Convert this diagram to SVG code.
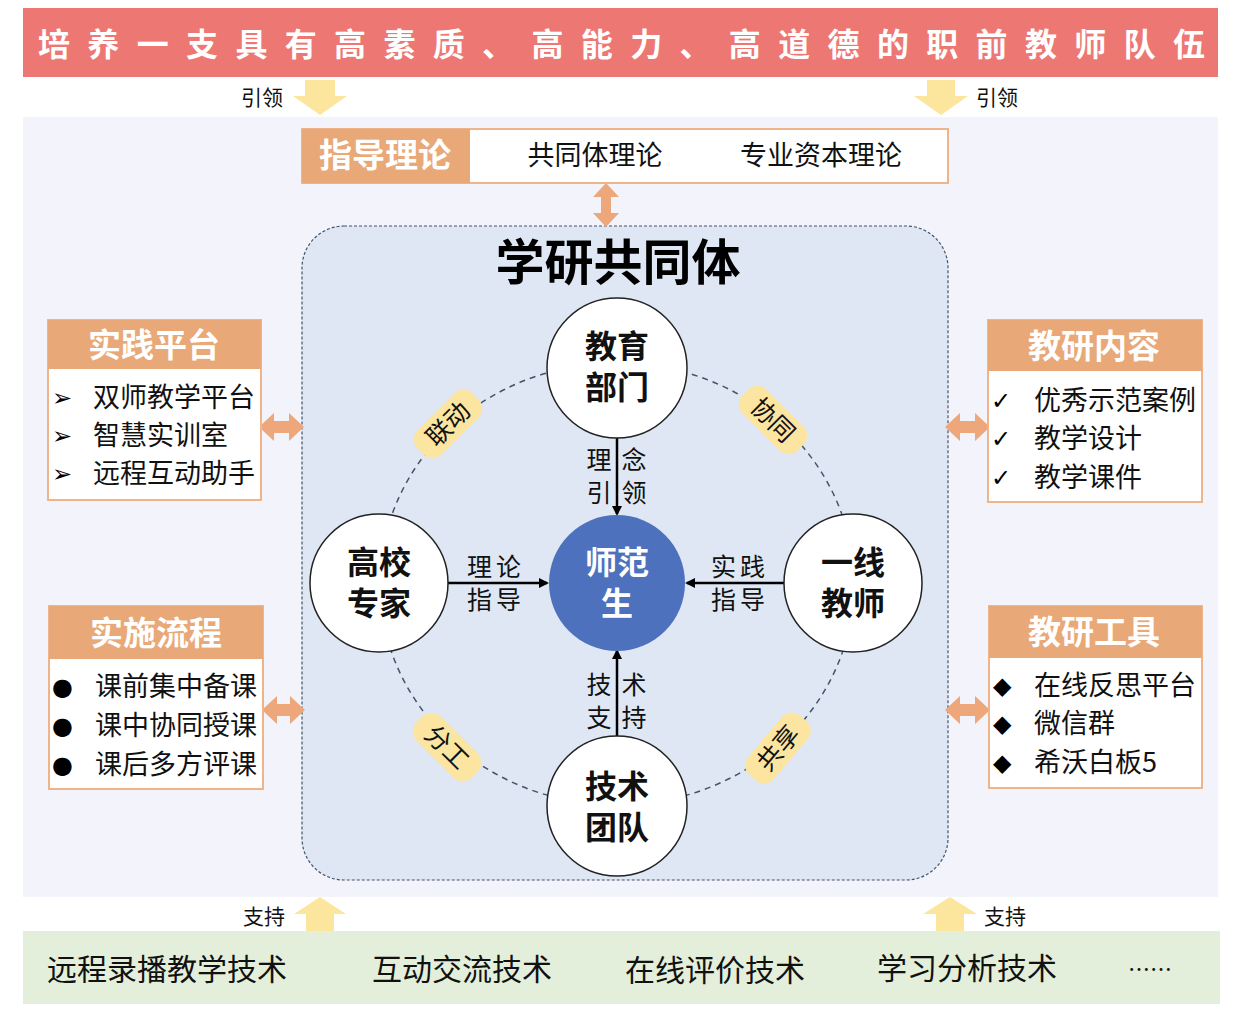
<svg xmlns="http://www.w3.org/2000/svg" width="1240" height="1020" viewBox="0 0 1240 1020">
<defs>
<style>
.cjk{font-family:"Noto Sans CJK SC","Liberation Sans",sans-serif;}
.b{font-weight:bold;}
.hdr{fill:#E9A878;}
.box{fill:#FFFFFF;stroke:#F0B48A;stroke-width:2;}
.dbl{fill:#EDA77A;}
.yel{fill:#FCE59C;}
.badge{fill:#FCE5A0;}
.ring{fill:#FFFFFF;stroke:#222;stroke-width:1.5;}
.ctext{font-size:32px;font-weight:bold;fill:#111;text-anchor:middle;}
.item{font-size:27px;fill:#111;}
.blt{font-family:"DejaVu Sans",sans-serif;font-size:24px;fill:#000;}
.lbl{font-size:25px;fill:#111;text-anchor:middle;}
.htxt{font-size:33px;font-weight:bold;fill:#FFFFFF;text-anchor:middle;}
.dash{fill:none;stroke:#44546A;stroke-width:1.5;stroke-dasharray:6 5;}
.conn{stroke:#000;stroke-width:2.5;fill:none;}
.band{font-size:30px;fill:#111;}
</style>
<marker id="ah" markerWidth="10" markerHeight="10" refX="8" refY="5" orient="auto" markerUnits="userSpaceOnUse" viewBox="0 0 10 10">
<path d="M0,0 L10,5 L0,10 z" fill="#000"/>
</marker>
</defs>

<rect x="0" y="0" width="1240" height="1020" fill="#FFFFFF"/>

<g id="banner">
<rect x="23" y="8" width="1195" height="69" fill="#ED7873"/>
<text class="cjk b" x="38" y="56" font-size="32" fill="#FFFFFF" textLength="1167" lengthAdjust="spacing">培养一支具有高素质、高能力、高道德的职前教师队伍</text>
</g>

<rect x="23" y="117" width="1195" height="780" fill="#F2F3FB"/>

<g id="arrows-top">
<polygon class="yel" points="305,80 335,80 335,96 347,96 320,115 293,96 305,96"/>
<text class="cjk" x="262" y="105" font-size="21" fill="#111" text-anchor="middle">引领</text>
<polygon class="yel" points="927,80 955,80 955,96 968,96 941,115 914,96 927,96"/>
<text class="cjk" x="997" y="105" font-size="21" fill="#111" text-anchor="middle">引领</text>
</g>

<g id="theory">
<rect class="box" x="302" y="129" width="646" height="54"/>
<rect class="hdr" x="302" y="129" width="168" height="54"/>
<text class="cjk htxt" x="385" y="167">指导理论</text>
<text class="cjk" x="595" y="165" font-size="27" fill="#111" text-anchor="middle">共同体理论</text>
<text class="cjk" x="821" y="165" font-size="27" fill="#111" text-anchor="middle">专业资本理论</text>
</g>

<g id="community">
<rect x="302" y="226" width="646" height="654" rx="42" ry="42" fill="#DEE7F3" stroke="#44546A" stroke-width="1.2" stroke-dasharray="3 2"/>
<text class="cjk b" x="618" y="280" font-size="49" fill="#000" text-anchor="middle">学研共同体</text>
</g>

<g id="connectors">
<polygon class="dbl" points="606,183 619,197 611,197 611,213 619,213 606,227 593,213 601,213 601,197 593,197"/>
<polygon class="dbl" points="259,427 274,413 274,421 289,421 289,413 304,427 289,441 289,433 274,433 274,441"/>
<polygon class="dbl" points="262,710 277,696 277,704 290,704 290,696 305,710 290,724 290,716 277,716 277,724"/>
<polygon class="dbl" points="945,427 960,413 960,421 975,421 975,413 990,427 975,441 975,433 960,433 960,441"/>
<polygon class="dbl" points="945,710 960,696 960,704 975,704 975,696 990,710 975,724 975,716 960,716 960,724"/>
<ellipse class="dash" cx="617" cy="584" rx="237" ry="221"/>
<line class="conn" x1="617" y1="438" x2="617" y2="514" marker-end="url(#ah)"/>
<line class="conn" x1="448" y1="583" x2="547" y2="583" marker-end="url(#ah)"/>
<line class="conn" x1="785" y1="583" x2="687" y2="583" marker-end="url(#ah)"/>
<line class="conn" x1="617" y1="738" x2="617" y2="651" marker-end="url(#ah)"/>
<text class="cjk lbl" x="599" y="469">理</text>
<text class="cjk lbl" x="634" y="469">念</text>
<text class="cjk lbl" x="599" y="502">引</text>
<text class="cjk lbl" x="634" y="502">领</text>
<text class="cjk lbl" x="496" y="576" letter-spacing="4">理论</text>
<text class="cjk lbl" x="496" y="609" letter-spacing="4">指导</text>
<text class="cjk lbl" x="740" y="576" letter-spacing="4">实践</text>
<text class="cjk lbl" x="740" y="609" letter-spacing="4">指导</text>
<text class="cjk lbl" x="599" y="694">技</text>
<text class="cjk lbl" x="634" y="694">术</text>
<text class="cjk lbl" x="599" y="727">支</text>
<text class="cjk lbl" x="634" y="727">持</text>
<g transform="translate(448,424) rotate(-45)">
<rect class="badge" x="-39" y="-17" width="78" height="34" rx="13"/>
<text class="cjk" x="0" y="9" font-size="25" fill="#111" text-anchor="middle">联动</text>
</g>
<g transform="translate(773,420) rotate(45)">
<rect class="badge" x="-39" y="-17" width="78" height="34" rx="13"/>
<text class="cjk" x="0" y="9" font-size="25" fill="#111" text-anchor="middle">协同</text>
</g>
<g transform="translate(447,747) rotate(45)">
<rect class="badge" x="-39" y="-17" width="78" height="34" rx="13"/>
<text class="cjk" x="0" y="9" font-size="25" fill="#111" text-anchor="middle">分工</text>
</g>
<g transform="translate(778,748) rotate(-50)">
<rect class="badge" x="-39" y="-17" width="78" height="34" rx="13"/>
<text class="cjk" x="0" y="9" font-size="25" fill="#111" text-anchor="middle">共享</text>
</g>
</g>

<g id="node-edu">
<circle class="ring" cx="617" cy="368" r="70"/>
<text class="cjk ctext" x="617" y="358">教育<tspan x="617" dy="41">部门</tspan></text>
</g>
<g id="node-univ">
<circle class="ring" cx="379" cy="583" r="69"/>
<text class="cjk ctext" x="379" y="574">高校<tspan x="379" dy="41">专家</tspan></text>
</g>
<g id="node-teacher">
<circle class="ring" cx="853" cy="583" r="69"/>
<text class="cjk ctext" x="853" y="574">一线<tspan x="853" dy="41">教师</tspan></text>
</g>
<g id="node-tech">
<circle class="ring" cx="617" cy="806" r="70"/>
<text class="cjk ctext" x="617" y="798">技术<tspan x="617" dy="41">团队</tspan></text>
</g>
<g id="node-student">
<circle cx="617" cy="583" r="68" fill="#4E71BE"/>
<text class="cjk ctext" x="617" y="574" style="fill:#FFFFFF">师范<tspan x="617" dy="41">生</tspan></text>
</g>

<g id="box-platform">
<rect class="box" x="48" y="320" width="213" height="180"/>
<rect class="hdr" x="48" y="320" width="213" height="49"/>
<text class="cjk htxt" x="154" y="357">实践平台</text>
<text class="blt" x="52" y="406">➢</text>
<text class="cjk item" x="93" y="407">双师教学平台</text>
<text class="blt" x="52" y="444">➢</text>
<text class="cjk item" x="93" y="445">智慧实训室</text>
<text class="blt" x="52" y="482">➢</text>
<text class="cjk item" x="93" y="483">远程互动助手</text>
</g>

<g id="box-process">
<rect class="box" x="49" y="606" width="214" height="183"/>
<rect class="hdr" x="49" y="606" width="214" height="53"/>
<text class="cjk htxt" x="156" y="645">实施流程</text>
<text class="blt" x="52" y="695">●</text>
<text class="cjk item" x="95" y="696">课前集中备课</text>
<text class="blt" x="52" y="734">●</text>
<text class="cjk item" x="95" y="735">课中协同授课</text>
<text class="blt" x="52" y="773">●</text>
<text class="cjk item" x="95" y="774">课后多方评课</text>
</g>

<g id="box-content">
<rect class="box" x="988" y="320" width="214" height="182"/>
<rect class="hdr" x="988" y="320" width="214" height="51"/>
<text class="cjk htxt" x="1094" y="358">教研内容</text>
<text class="blt" x="991" y="409">✓</text>
<text class="cjk item" x="1034" y="410">优秀示范案例</text>
<text class="blt" x="991" y="447">✓</text>
<text class="cjk item" x="1034" y="448">教学设计</text>
<text class="blt" x="991" y="486">✓</text>
<text class="cjk item" x="1034" y="487">教学课件</text>
</g>

<g id="box-tools">
<rect class="box" x="989" y="606" width="213" height="182"/>
<rect class="hdr" x="989" y="606" width="213" height="52"/>
<text class="cjk htxt" x="1094" y="644">教研工具</text>
<text class="blt" x="993" y="694">◆</text>
<text class="cjk item" x="1034" y="695">在线反思平台</text>
<text class="blt" x="993" y="732">◆</text>
<text class="cjk item" x="1034" y="733">微信群</text>
<text class="blt" x="993" y="771">◆</text>
<text class="cjk item" x="1034" y="772">希沃白板5</text>
</g>

<g id="arrows-bottom">
<polygon class="yel" points="320,897 346,914 334,914 334,931 306,931 306,914 294,914"/>
<text class="cjk" x="264" y="924" font-size="21" fill="#111" text-anchor="middle">支持</text>
<polygon class="yel" points="950,897 977,914 964,914 964,931 936,931 936,914 923,914"/>
<text class="cjk" x="1005" y="924" font-size="21" fill="#111" text-anchor="middle">支持</text>
</g>

<g id="tech-band">
<rect x="23" y="931" width="1197" height="73" fill="#E3EFDA"/>
<text class="cjk band" x="47" y="980">远程录播教学技术</text>
<text class="cjk band" x="372" y="980">互动交流技术</text>
<text class="cjk band" x="625" y="981">在线评价技术</text>
<text class="cjk band" x="877" y="979">学习分析技术</text>
<text class="cjk" x="1128" y="977" font-size="22" fill="#111">……</text>
</g>
</svg>
